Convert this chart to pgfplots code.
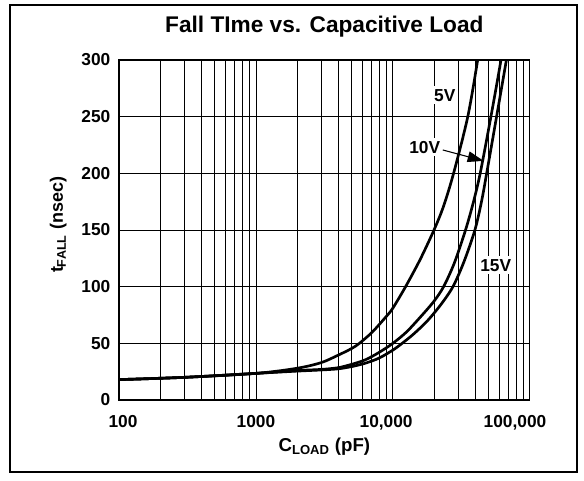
\documentclass[border=0pt]{standalone}
\usepackage{fontspec}
\setmainfont{Liberation Sans}
\usepackage{pgfplots}
\pgfplotsset{compat=1.18}
\usetikzlibrary{arrows.meta}
\begin{document}
\begin{tikzpicture}
\useasboundingbox (-89.25pt,-60pt) rectangle (348.75pt,300pt);
\draw[line width=1.3pt] (-81.75pt,-54pt) rectangle (343.5pt,296.25pt);
\begin{axis}[
  at={(0pt,0pt)}, anchor=south west,
  scale only axis, width=308pt, height=255pt,
  xmode=log, xmin=100, xmax=100000, ymin=0, ymax=300,
  ytick={0,50,100,150,200,250,300},
  xtick={100,1000,10000,100000},
  xticklabels={{\hspace*{6pt}100},{1000},{10,000\hspace*{10pt}},{100,000\hspace*{22pt}}},
  grid=both,
  grid style={black, line width=0.5pt},
  major grid style={black, line width=0.5pt},
  minor grid style={black, line width=0.5pt},
  major tick length=0pt, minor tick length=0pt,
  axis line style={line width=1.2pt},
  /pgf/number format/assume math mode=true,
  tick label style={font=\bfseries\fontsize{13}{15}\selectfont},
  xticklabel style={yshift=-8pt},
  yticklabel style={xshift=-3pt},
  title={\bfseries\fontsize{17}{19}\selectfont Fall TIme vs. Capacitive Load},
  title style={at={(axis description cs:0.5,1.075)}, anchor=center},
  xlabel={\bfseries\fontsize{14}{16}\selectfont C\textsubscript{LOAD} (pF)},
  xlabel style={at={(axis description cs:0.5,-0.138)}, anchor=center},
  ylabel={\bfseries\fontsize{13.5}{15}\selectfont t\textsubscript{FALL} (nsec)},
  ylabel style={at={(axis description cs:-0.148,0.515)}, anchor=center},
]
% 5V
\addplot[black, line width=2pt, smooth, tension=0.5] coordinates {(100,18) (300,20) (1000,23.5) (1995,28) (3000,33) (3981,39.5) (5012,45.5) (5700,50) (7079,59.9) (8913,73.4) (10000,81) (12400,100) (15849,124) (20000,150) (23440,170.7) (27800,200) (35300,250) (41700,300) (44700,325)};
% 10V
\addplot[black, line width=2pt, smooth, tension=0.5] coordinates {(100,18) (300,20) (1000,23.5) (2000,26) (3000,27) (3981,28.5) (5012,31.5) (6310,35.5) (7943,42) (10000,50) (12589,60) (15849,73) (19953,87) (23500,100) (28184,121) (34000,150) (38900,175) (43500,200) (52100,250) (61700,300) (66000,325)};
% 15V
\addplot[black, line width=2pt, smooth, tension=0.5] coordinates {(100,18) (300,20) (1000,23.5) (2000,25.5) (3000,26.5) (3981,27.5) (5012,29.5) (6310,32.5) (7943,37) (10000,44) (11700,50) (14125,58) (17783,69.5) (22387,84) (27500,100) (33113,122) (39800,150) (44460,175) (48500,200) (57300,250) (67600,300) (72000,320)};
\node[fill=white, inner sep=2pt, font=\bfseries\fontsize{13}{15}\selectfont] at (axis cs:24000,269) {5V};
\node[fill=white, inner sep=2pt, font=\bfseries\fontsize{13}{15}\selectfont] at (axis cs:17100,223) {10V};
\node[fill=white, inner sep=2pt, font=\bfseries\fontsize{13}{15}\selectfont] at (axis cs:56500,119) {15V};
\draw[line width=0.8pt, -{Triangle[length=12pt,width=8pt]}] (axis cs:23200,220.6) -- (axis cs:46100,211);
\end{axis}
\end{tikzpicture}
\end{document}
